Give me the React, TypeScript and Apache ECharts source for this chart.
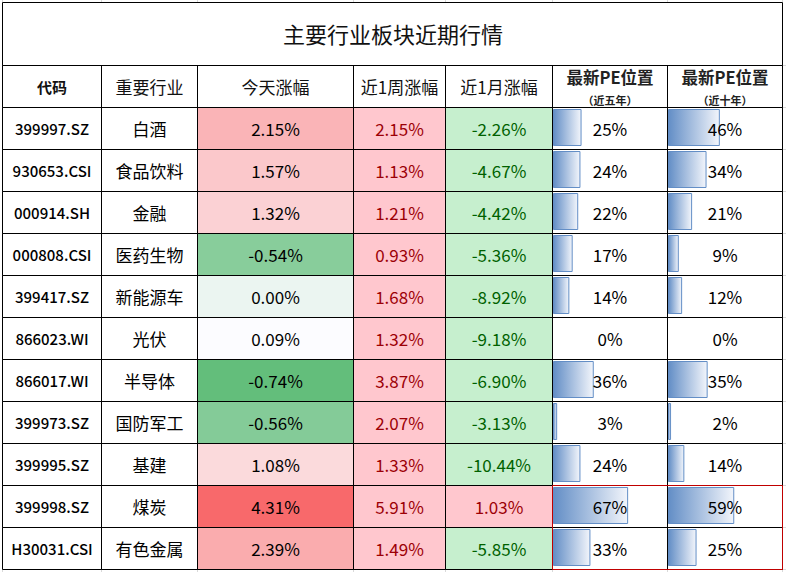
import React, { useEffect, useRef } from "react";
import * as echarts from "echarts";

const title = "主要行业板块近期行情";
const headers = ["代码", "重要行业", "今天涨幅", "近1周涨幅", "近1月涨幅", "最新PE位置", "最新PE位置"];
const subHeaders = ["", "", "", "", "", "（近五年）", "（近十年）"];
const codes = ["399997.SZ", "930653.CSI", "000914.SH", "000808.CSI", "399417.SZ", "866023.WI", "866017.WI", "399973.SZ", "399995.SZ", "399998.SZ", "H30031.CSI"];
const industries = ["白酒", "食品饮料", "金融", "医药生物", "新能源车", "光伏", "半导体", "国防军工", "基建", "煤炭", "有色金属"];
const todayChg = [2.15, 1.57, 1.32, -0.54, 0.0, 0.09, -0.74, -0.56, 1.08, 4.31, 2.39];
const weekChg = [2.15, 1.13, 1.21, 0.93, 1.68, 1.32, 3.87, 2.07, 1.33, 5.91, 1.49];
const monthChg = [-2.26, -4.67, -4.42, -5.36, -8.92, -9.18, -6.9, -3.13, -10.44, 1.03, -5.85];
const pe5 = [25, 24, 22, 17, 14, 0, 36, 3, 24, 67, 33];
const pe10 = [46, 34, 21, 9, 12, 0, 35, 2, 14, 59, 25];

// layout (pixels)
const colEdges = [2, 101, 197, 353, 445, 552, 667, 782];
const tableTop = 65;
const rowH = 42;
const FONT = "'Noto Sans CJK SC', 'Noto Sans', sans-serif";

// colour scale helpers (Excel-like 3 colour scale)
const GREEN = [99, 190, 123];
const WHITE = [252, 252, 255];
const RED = [248, 105, 107];
const SCALE_MID = 0.09;
function mix(a: number[], b: number[], t: number) {
  const c = a.map((v, k) => Math.round(v + (b[k] - v) * t));
  return `rgb(${c[0]},${c[1]},${c[2]})`;
}
function scaleColor(v: number, arr: number[]) {
  const mn = Math.min(...arr);
  const mx = Math.max(...arr);
  if (v >= SCALE_MID) return mix(WHITE, RED, (v - SCALE_MID) / (mx - SCALE_MID));
  return mix(WHITE, GREEN, (SCALE_MID - v) / (SCALE_MID - mn));
}
const pct = (v: number) => v.toFixed(2) + "%";

type ColKind = "code" | "name" | "scale" | "sign" | "bar";
const colKinds: ColKind[] = ["code", "name", "scale", "sign", "sign", "bar", "bar"];
const colData: (string[] | number[])[] = [codes, industries, todayChg, weekChg, monthChg, pe5, pe10];

function makeRender(col: number) {
  const kind = colKinds[col];
  const values = colData[col];
  return (params: any, api: any) => {
    const i = params.dataIndex;
    const cs = params.coordSys;
    const c = api.coord([0, i]);
    const h = api.size([0, 1])[1];
    const x0 = Math.round(cs.x) + 0.5;
    const x1 = Math.round(cs.x + cs.width) + 0.5;
    const y0 = Math.round(c[1] - h / 2) + 0.5;
    const y1 = Math.round(c[1] + h / 2) + 0.5;
    const cx = (x0 + x1) / 2;
    const cy = c[1];
    const children: any[] = [];
    children.push({
      type: "rect",
      shape: { x: x0, y: y0, width: x1 - x0, height: y1 - y0 },
      style: { fill: "none", stroke: "#000", lineWidth: 1 },
      z2: 5,
    });
    if (i === 0) {
      if (subHeaders[col]) {
        children.push({
          type: "text", x: cx, y: cy - 9, z2: 6,
          style: { text: headers[col], font: `bold 16.5px ${FONT}`, fill: "#222", align: "center", verticalAlign: "middle" },
        });
        children.push({
          type: "text", x: cx, y: cy + 14, z2: 6,
          style: { text: subHeaders[col], font: `bold 11px ${FONT}`, fill: "#222", align: "center", verticalAlign: "middle" },
        });
      } else {
        const bold = col === 0;
        children.push({
          type: "text", x: cx, y: cy, z2: 6,
          style: { text: headers[col], font: `${bold ? "bold 15px" : "17px"} ${FONT}`, fill: "#111", align: "center", verticalAlign: "middle" },
        });
      }
      return { type: "group", children };
    }
    const r = i - 1;
    let text = "";
    let fill: string | null = null;
    let color = "#000";
    let font = `17px ${FONT}`;
    if (kind === "code") {
      text = values[r] as string;
      font = `500 15px ${FONT}`;
    } else if (kind === "name") {
      text = values[r] as string;
    } else if (kind === "scale") {
      const v = values[r] as number;
      text = pct(v);
      fill = scaleColor(v, values as number[]);
    } else if (kind === "sign") {
      const v = values[r] as number;
      text = pct(v);
      if (v >= 0) { fill = "#FFC7CE"; color = "#9C0006"; } else { fill = "#C6EFCE"; color = "#006100"; }
    } else if (kind === "bar") {
      const v = values[r] as number;
      text = v + "%";
      if (v > 0) {
        const end = api.coord([v, i])[0];
        const bx = x0 + 1;
        children.push({
          type: "rect",
          shape: { x: bx, y: y0 + 2, width: Math.max(1, end - bx), height: 36 },
          style: {
            fill: new echarts.graphic.LinearGradient(0, 0, 1, 0, [
              { offset: 0, color: "#638EC6" },
              { offset: 1, color: "#F2F5FB" },
            ]),
            stroke: "#638EC6",
            lineWidth: 1,
          },
          z2: 2,
        });
      }
    }
    if (fill) {
      children.push({
        type: "rect",
        shape: { x: x0, y: y0, width: x1 - x0, height: y1 - y0 },
        style: { fill },
        z2: 0,
      });
    }
    children.push({
      type: "text", x: cx, y: cy, z2: 6,
      style: { text, font, fill: color, align: "center", verticalAlign: "middle" },
    });
    return { type: "group", children };
  };
}

export default function App() {
  const ref = useRef<HTMLDivElement>(null);
  useEffect(() => {
    if (!ref.current) return;
    const chart = echarts.init(ref.current, null, { renderer: "svg" });
    const nRows = codes.length + 1;
    const rowCats = ["header", ...codes];
    const grids = colEdges.slice(0, -1).map((x, k) => ({
      left: x,
      width: colEdges[k + 1] - x,
      top: tableTop,
      height: rowH * nRows,
      containLabel: false,
    }));
    const xAxes = grids.map((_, k) => ({
      type: "value",
      gridIndex: k,
      min: colKinds[k] === "bar" ? -1.2 : 0,
      max: colKinds[k] === "bar" ? 102.5 : 100,
      show: false,
    }));
    const yAxes = grids.map((_, k) => ({
      type: "category",
      gridIndex: k,
      data: rowCats,
      inverse: true,
      show: false,
    }));
    const series = grids.map((_, k) => ({
      type: "custom",
      xAxisIndex: k,
      yAxisIndex: k,
      renderItem: makeRender(k),
      data: rowCats.map((_, i) => [0, i]),
      encode: { x: 0, y: 1 },
      silent: true,
    }));
    const right = colEdges[colEdges.length - 1];
    const bottom = tableTop + rowH * nRows;
    const stubs: any[] = [];
    for (let i = 0; i <= nRows; i++) {
      const y = tableTop + rowH * i + 0.5;
      stubs.push({ type: "line", shape: { x1: right + 1, y1: y, x2: 786, y2: y }, style: { stroke: "#d9d9d9", lineWidth: 1 } });
    }
    colEdges.forEach((x) => {
      stubs.push({ type: "line", shape: { x1: x + 0.5, y1: 0, x2: x + 0.5, y2: 2 }, style: { stroke: "#d9d9d9", lineWidth: 1 } });
      stubs.push({ type: "line", shape: { x1: x + 0.5, y1: bottom + 1, x2: x + 0.5, y2: 572 }, style: { stroke: "#d9d9d9", lineWidth: 1 } });
    });
    chart.setOption({
      animation: false,
      backgroundColor: "#fff",
      title: {
        text: title,
        left: "center",
        top: 21,
        padding: 0,
        textStyle: { fontFamily: FONT, fontSize: 22, fontWeight: "normal", color: "#111", lineHeight: 24 },
      },
      grid: grids,
      xAxis: xAxes,
      yAxis: yAxes,
      series,
      graphic: [
        ...stubs,
        {
          type: "rect",
          shape: { x: colEdges[0] + 0.5, y: 2.5, width: right - colEdges[0], height: tableTop - 2 },
          style: { fill: "none", stroke: "#000", lineWidth: 1 },
          z: 10,
        },
        {
          type: "rect",
          shape: { x: colEdges[5] + 0.5, y: tableTop + rowH * 10 + 0.5, width: right - colEdges[5], height: rowH * 2 },
          style: { fill: "none", stroke: "#C00000", lineWidth: 1 },
          z: 10,
        },
      ],
    });
    return () => chart.dispose();
  }, []);
  return (
    <div
      ref={ref}
      style={{ position: "absolute", left: 0, top: 0, width: 786, height: 572, background: "#fff" }}
    />
  );
}
